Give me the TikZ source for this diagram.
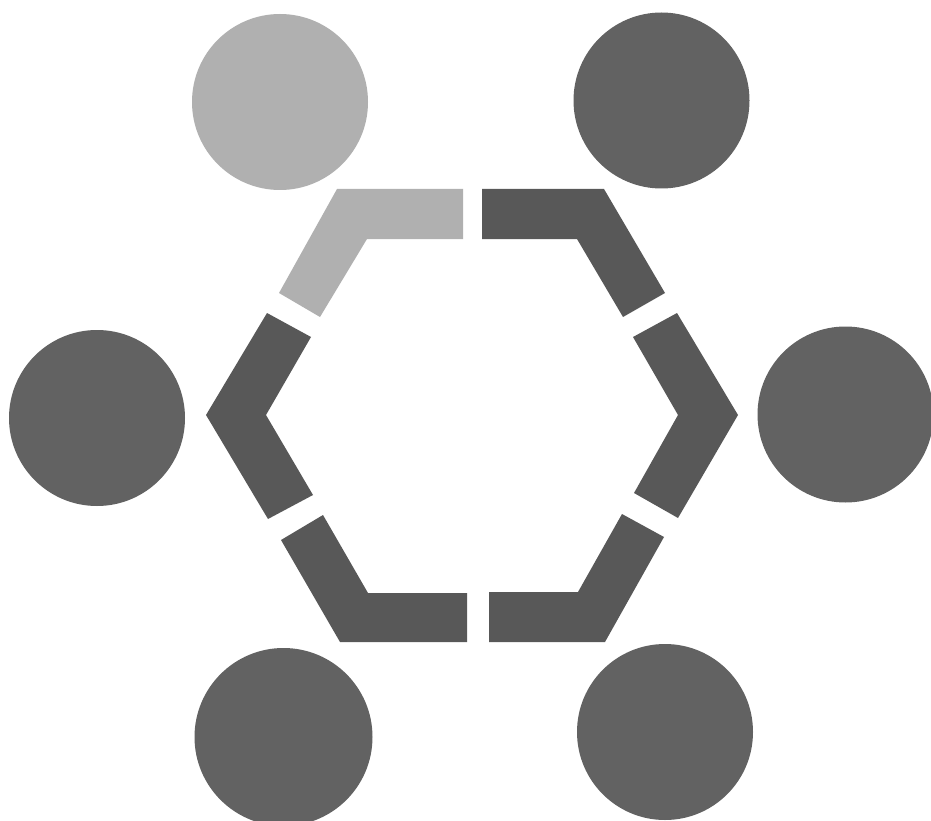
\documentclass[tikz,border=0pt]{standalone}
\begin{document}
\begin{tikzpicture}[x=1pt,y=-1pt,
  disc/.style={circle,draw=none,fill=#1,inner sep=0pt,minimum size=176pt},
  piece/.style={fill=#1,draw=none}]
\definecolor{darkg}{RGB}{98,98,98}
\definecolor{darkp}{RGB}{88,88,88}
\definecolor{lightg}{RGB}{176,176,176}
\useasboundingbox (0,0) rectangle (931,821);
\fill[white] (0,0) rectangle (931,821);
% circles
\node[disc=lightg] (c1) at (280,102) {};
\node[disc=darkg] (c2) at (661.5,100.5) {};
\node[disc=darkg] (c3) at (97,418) {};
\node[disc=darkg] (c4) at (845.5,414.5) {};
\node[disc=darkg,minimum size=178pt] (c5) at (283.5,737) {};
\node[disc=darkg] (c6) at (665,732) {};
% hexagon pieces
\fill[piece=lightg] (463,189) -- (337,189) -- (279,293) -- (320,317) -- (367,239) -- (463,239) -- cycle;
\fill[piece=darkp] (482,189) -- (604,189) -- (665,293) -- (623,317) -- (577,239) -- (482,239) -- cycle;
\fill[piece=darkp] (267,313) -- (206,415) -- (268,519) -- (313,495) -- (266,415) -- (311,337) -- cycle;
\fill[piece=darkp] (677,313) -- (738,415) -- (678,518) -- (634,493) -- (678,415) -- (633,337) -- cycle;
\fill[piece=darkp] (281,540) -- (340,642) -- (467,642) -- (467,593) -- (368,593) -- (323,515) -- cycle;
\fill[piece=darkp] (664,537) -- (605,642) -- (489,642) -- (489,592) -- (578,592) -- (622,514) -- cycle;
\end{tikzpicture}
\end{document}
